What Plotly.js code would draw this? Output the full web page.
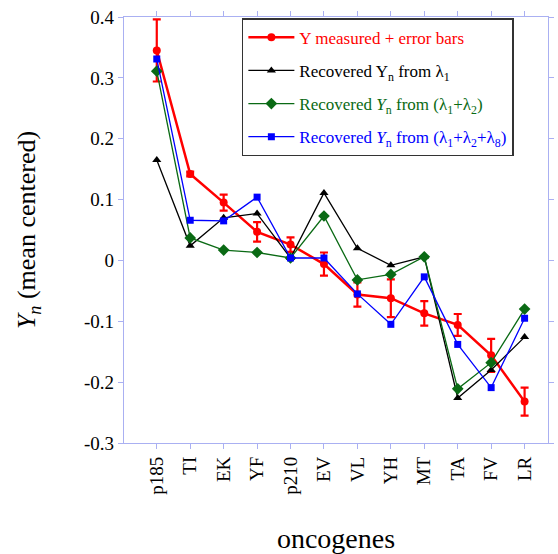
<!DOCTYPE html>
<html>
<head>
<meta charset="utf-8">
<script src="https://cdn.plot.ly/plotly-3.0.1.min.js"></script>
<style>html,body{margin:0;padding:0;background:#fff;}#chart{width:558px;height:554px;}</style>
</head>
<body>
<div id="chart"></div>
<script>
const categories = ["p185","TI","EK","YF","p210","EV","VL","YH","MT","TA","FV","LR"];
const yMeasured = [0.345, 0.142, 0.095, 0.047, 0.026, -0.006, -0.056, -0.062, -0.087, -0.106, -0.156, -0.232];
const yError    = [0.051, 0.004, 0.013, 0.016, 0.012, 0.019, 0.020, 0.031, 0.020, 0.018, 0.027, 0.023];
const yLambda1  = [0.165, 0.024, 0.070, 0.077, 0.004, 0.111, 0.020, -0.008, 0.006, -0.226, -0.180, -0.126];
const yLambda12 = [0.311, 0.037, 0.017, 0.013, 0.004, 0.073, -0.032, -0.023, 0.006, -0.211, -0.168, -0.080];
const yLambda128= [0.331, 0.066, 0.065, 0.104, 0.004, 0.004, -0.055, -0.105, -0.027, -0.138, -0.209, -0.095];
const yTickVals = [-0.3, -0.2, -0.1, 0, 0.1, 0.2, 0.3, 0.4];
const yTickText = ["-0.3", "-0.2", "-0.1", "0", "0.1", "0.2", "0.3", "0.4"];
const seriesNames = [
  "Y measured + error bars",
  "Recovered Y<sub>n</sub> from λ<sub>1</sub>",
  "Recovered <i>Y</i><sub>n</sub> from (λ<sub>1</sub>+λ<sub>2</sub>)",
  "Recovered <i>Y</i><sub>n</sub> from (λ<sub>1</sub>+λ<sub>2</sub>+λ<sub>8</sub>)"
];
const seriesColors = ["#ff0000", "#000000", "#0a6a14", "#0000ff"];

const serif = "'Liberation Serif', 'Times New Roman', Times, serif";
const axisColor = "#aab0f2";
const colored = (i) => '<span style="color:' + seriesColors[i] + '">' + seriesNames[i] + '</span>';

const traces = [
  {x: categories, y: yMeasured, name: colored(0), legendgroup: "g0", type: "scatter", mode: "lines+markers",
   line: {color: seriesColors[0], width: 2.5}, marker: {color: seriesColors[0], symbol: "circle", size: 8},
   error_y: {type: "data", array: yError, visible: true, color: seriesColors[0], thickness: 2.2, width: 4}},
  {x: categories, y: yLambda1, name: colored(1), legendgroup: "g1", type: "scatter", mode: "lines+markers",
   line: {color: seriesColors[1], width: 1.3}, marker: {color: seriesColors[1], symbol: "triangle-up", size: 8}},
  {x: categories, y: yLambda12, name: colored(2), legendgroup: "g2", type: "scatter", mode: "lines+markers",
   line: {color: seriesColors[2], width: 1.3}, marker: {color: seriesColors[2], symbol: "diamond", size: 9}},
  {x: categories, y: yLambda128, name: colored(3), legendgroup: "g3", type: "scatter", mode: "lines+markers",
   line: {color: seriesColors[3], width: 1.3}, marker: {color: seriesColors[3], symbol: "square", size: 7}}
];

const layout = {
  width: 558, height: 554,
  margin: {l: 124, r: 10, t: 17, b: 111},
  paper_bgcolor: "#ffffff", plot_bgcolor: "#ffffff",
  font: {family: serif, color: "#000"},
  showlegend: true,
  legend: {
    x: 0.278, y: 0.997, xanchor: "left", yanchor: "top",
    bordercolor: "#333", borderwidth: 1.5, bgcolor: "#fff",
    font: {family: serif, size: 17},
    tracegroupgap: 8, itemwidth: 46
  },
  xaxis: {
    type: "category", categoryorder: "array", categoryarray: categories,
    range: [-0.98, 11.7], automargin: false,
    showline: true, linecolor: axisColor, linewidth: 1.2, mirror: "ticks",
    ticks: "outside", ticklen: 5, tickcolor: axisColor,
    showgrid: false, zeroline: false,
    tickangle: -90, tickfont: {family: serif, size: 19, color: "#000"},
    title: {text: "oncogenes", font: {family: serif, size: 28, color: "#000"}, standoff: 34}
  },
  yaxis: {
    range: [-0.3, 0.4], tickvals: yTickVals, ticktext: yTickText, automargin: false,
    showline: true, linecolor: axisColor, linewidth: 1.2, mirror: "ticks",
    ticks: "outside", ticklen: 5, tickcolor: axisColor,
    showgrid: false, zeroline: false,
    tickfont: {family: serif, size: 19, color: "#000"},
    title: {text: "<i>Y</i><sub><i>n</i></sub> (mean centered)", font: {family: serif, size: 26, color: "#000"}, standoff: 40}
  }
};

Plotly.newPlot("chart", traces, layout, {displayModeBar: false, staticPlot: true});
</script>
</body>
</html>
